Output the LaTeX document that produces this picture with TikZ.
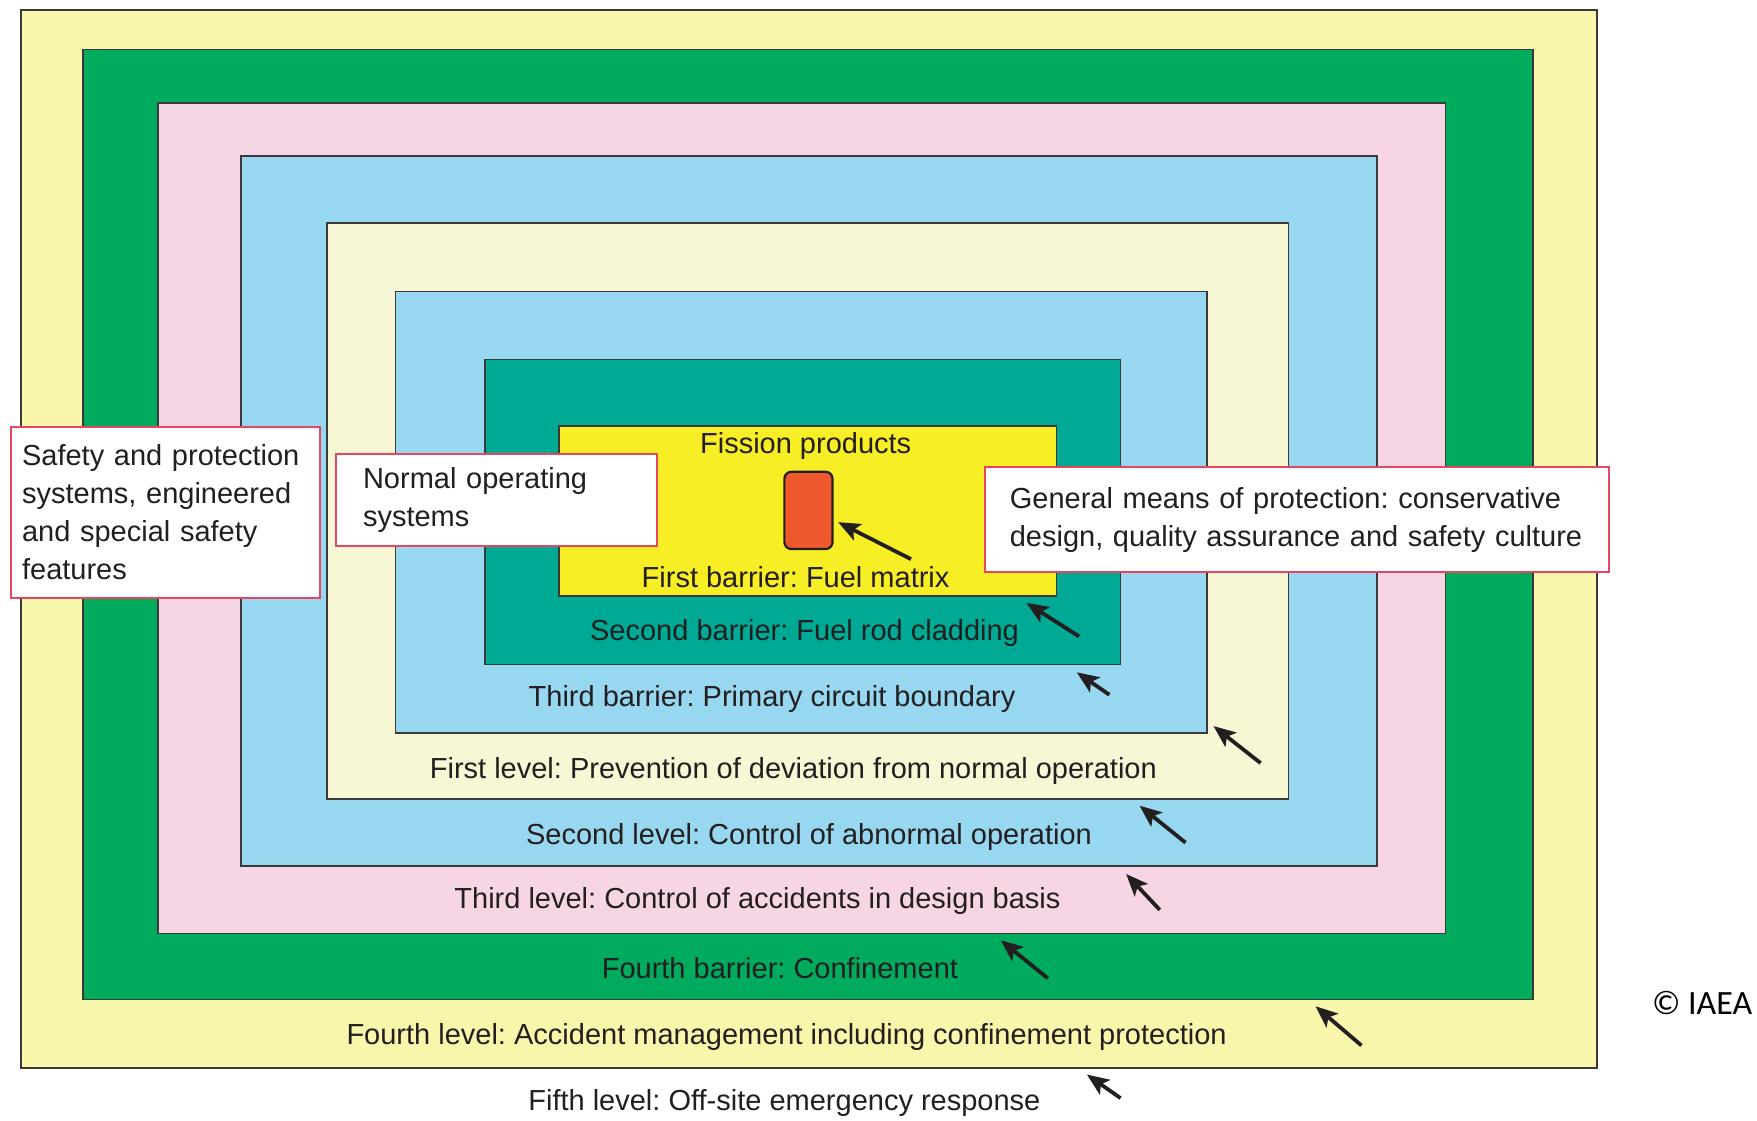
\documentclass[tikz,border=0pt]{standalone}
\usepackage{fontspec}
\setmainfont{Liberation Sans}
\newfontfamily\cfont{Carlito}
\usetikzlibrary{arrows.meta}
\definecolor{outery}{HTML}{F8F6AB}
\definecolor{cgreen}{HTML}{00AB5E}
\definecolor{cpink}{HTML}{F6D5E5}
\definecolor{cblue}{HTML}{97D7F0}
\definecolor{ccream}{HTML}{F7F6D5}
\definecolor{cteal}{HTML}{00A993}
\definecolor{cyellow}{HTML}{F8EE26}
\definecolor{corange}{HTML}{EE5A2E}
\definecolor{edge}{HTML}{3A3A3A}
\definecolor{ink}{HTML}{231F20}
\definecolor{callred}{HTML}{E94560}
\frenchspacing
\hyphenpenalty=10000
\begin{document}
\begin{tikzpicture}[x=1.1205pt,y=-1.1205pt,
  layer/.style={draw=edge, line width=1.6pt},
  lbl/.style={font=\fontsize{29}{38}\selectfont, text=ink, inner sep=0pt},
  callout/.style={draw=callred, line width=2pt, fill=white, text=ink,
    font=\fontsize{29}{38}\selectfont, align=left, anchor=north west, inner ysep=0pt},
  pointer/.style={-{Stealth[length=22pt,width=18pt,inset=5pt]}, line width=3.8pt, draw=ink}]
\fill[white] (0,0) rectangle (1568,1000);
\useasboundingbox (0,0) rectangle (1568,1000);
% nested layers
\filldraw[layer, fill=outery]  (19,9)    rectangle (1425,953);
\filldraw[layer, fill=cgreen]  (74,44)   rectangle (1368,892);
\filldraw[layer, fill=cpink]   (141,92)  rectangle (1290,833);
\filldraw[layer, fill=cblue]   (215,139) rectangle (1229,773);
\filldraw[layer, fill=ccream]  (292,199) rectangle (1150,713);
\filldraw[layer, fill=cblue]   (353,260) rectangle (1077,654);
\filldraw[layer, fill=cteal]   (433,321) rectangle (1000,593);
\filldraw[layer, fill=cyellow] (499,380) rectangle (943,532);
\filldraw[draw=ink, line width=2.2pt, fill=corange, rounded corners=7pt] (700,421) rectangle (743,490);
% labels
\node[lbl] (fp)  at (719,398) {Fission products};
\node[lbl] (b1)  at (710,515) {First barrier: Fuel matrix};
\node[lbl] (b2)  at (718,565) {Second barrier: Fuel rod cladding};
\node[lbl] (b3)  at (689,624) {Third barrier: Primary circuit boundary};
\node[lbl] (l1)  at (708,688) {First level: Prevention of deviation from normal operation};
\node[lbl] (l2)  at (722,747) {Second level: Control of abnormal operation};
\node[lbl] (l3)  at (676,804) {Third level: Control of accidents in design basis};
\node[lbl] (b4)  at (696,864) {Fourth barrier: Confinement};
\node[lbl] (l4)  at (702,925) {Fourth level: Accident management including confinement protection};
\node[lbl] (l5)  at (700,984) {Fifth level: Off-site emergency response};
\node[lbl, font=\cfont\fontsize{34}{40}\selectfont, text=black, anchor=east] (cr) at (1564,895) {© IAEA};
% callouts
\node[callout, inner xsep=11pt, text width=287pt, minimum height=171.4pt] (safety) at (9,380)
  {Safety and protection\\systems, engineered\\and special safety\\features};
\node[callout, inner xsep=27pt, text width=267pt, minimum height=91.9pt] (normal) at (299,404)
  {Normal operating\\systems};
\node[callout, inner xsep=25pt, text width=574pt, minimum height=105.3pt] (general) at (878,416)
  {General means of protection: conservative\\design, quality assurance and safety culture};
% arrows
\coordinate (t1) at (813,499); \coordinate (h1) at (748,466);
\coordinate (t2) at (963,568); \coordinate (h2) at (916,538);
\coordinate (t3) at (990,620); \coordinate (h3) at (961,600);
\coordinate (t4) at (1125,681); \coordinate (h4) at (1083,648);
\coordinate (t5) at (1058,752); \coordinate (h5) at (1017,719);
\coordinate (t6) at (1035,812); \coordinate (h6) at (1005,780);
\coordinate (t7) at (935,873); \coordinate (h7) at (893,839);
\coordinate (t8) at (1215,933); \coordinate (h8) at (1174,898);
\coordinate (t9) at (1000,980); \coordinate (h9) at (970,959);
\foreach \i in {1,...,9} {\draw[pointer] (t\i) -- (h\i);}
\end{tikzpicture}
\end{document}
